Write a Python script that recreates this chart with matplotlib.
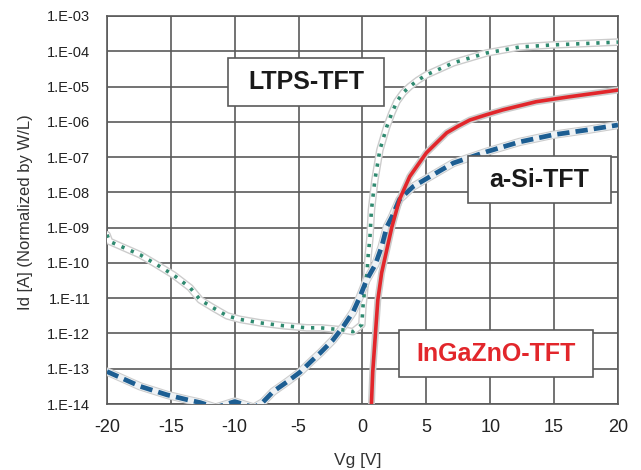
import numpy as np
import matplotlib
matplotlib.use("Agg")
import matplotlib.pyplot as plt
from matplotlib.patches import Rectangle
from matplotlib.ticker import FuncFormatter, FixedLocator

plt.rcParams['font.family'] = ['Liberation Sans', 'DejaVu Sans']
plt.rcParams['axes.unicode_minus'] = False

# ---------------- data ----------------
# log10(Id) values
ltps_vg = [-20, -19.8, -17.4, -16.1, -14.8, -13.5, -12.7, -11.7, -10.6, -9.6, -8.0,
           -6.2, -4.35, -3.3, -1.5, -0.75, -0.05, 0.03, 0.19, 0.34, 0.45, 0.58,
           0.7, 0.97, 1.36, 1.9, 2.3, 2.7, 3.2, 3.7, 4.3, 5.0, 7.1, 9.7, 12.3,
           14.9, 17.5, 20]
ltps_log_id = [-9.2, -9.39, -9.77, -10.05, -10.34, -10.7, -11.05, -11.27, -11.5, -11.6,
               -11.7, -11.78, -11.84, -11.84, -11.9, -11.95, -11.75, -11.27, -10.68,
               -10.34, -9.77, -9.3, -8.5, -7.65, -6.8, -6.14, -5.75, -5.42, -5.17,
               -5.0, -4.83, -4.67, -4.33, -4.05, -3.88, -3.82, -3.78, -3.74]

asi_vg = [-20, -17.4, -15.3, -13.7, -12.7, -11.5, -10.0, -8.5, -7.8, -7.0, -5.9, -4.9,
          -3.9, -3.3, -2.3, -1.5, -0.75, -0.2, 0.3, 1.0, 1.5, 1.9, 2.3, 2.9, 3.95,
          5.3, 7.1, 9.7, 12.3, 14.9, 17.6, 20]
asi_log_id = [-13.08, -13.5, -13.74, -13.88, -13.96, -14.1, -13.93, -14.1, -13.95,
              -13.65, -13.37, -13.1, -12.75, -12.55, -12.18, -11.8, -11.4, -10.96,
              -10.5, -10.05, -9.54, -8.98, -8.7, -8.2, -7.84, -7.55, -7.17, -6.85,
              -6.57, -6.37, -6.23, -6.09]

igzo_vg = [0.65, 0.7, 0.8, 0.98, 1.2, 1.5, 1.9, 2.3, 2.9, 3.7, 5.0, 6.6, 7.5, 8.4,
           9.7, 11.0, 13.6, 16.2, 20]
igzo_log_id = [-14.3, -14.0, -13.1, -12.18, -11.05, -10.28, -9.63, -8.98, -8.2,
               -7.55, -6.88, -6.31, -6.12, -5.95, -5.8, -5.66, -5.43, -5.29, -5.1]

x_ticks = [-20, -15, -10, -5, 0, 5, 10, 15, 20]
y_exps = list(range(-14, -2))

labels = ["LTPS-TFT", "a-Si-TFT", "InGaZnO-TFT"]

# ---------------- plot ----------------
fig = plt.figure(figsize=(6.41, 4.70), dpi=100)
ax = fig.add_axes([0.1669, 0.1404, 0.7972, 0.8256])

grid_c = '#5a5a5a'
halo_c = '#cccccc'

ltps_id = np.power(10.0, ltps_log_id)
asi_id = np.power(10.0, asi_log_id)
igzo_id = np.power(10.0, igzo_log_id)

# LTPS: greyish raw-data outline + green dotted
ax.plot(ltps_vg, ltps_id, color=halo_c, lw=5.5, solid_capstyle='round', zorder=3)
ax.plot(ltps_vg, ltps_id, color='white', lw=3.5, solid_capstyle='round', zorder=3)
ax.plot(ltps_vg, ltps_id, color='#2f8a70', lw=2.6, ls=(0, (0.9, 1.9)), zorder=4)

# a-Si: blue dashed
ax.plot(asi_vg, asi_id, color=halo_c, lw=6, solid_capstyle='round', zorder=3)
ax.plot(asi_vg, asi_id, color='#eef2f5', lw=4.5, solid_capstyle='round', zorder=3)
ax.plot(asi_vg, asi_id, color='#1d5e92', lw=3.4, ls=(0, (2.6, 1.3)), zorder=4)

# InGaZnO: red solid
ax.plot(igzo_vg, igzo_id, color=halo_c, lw=5, solid_capstyle='round', zorder=3)
ax.plot(igzo_vg, igzo_id, color='#e2262b', lw=2.6, zorder=4)

ax.set_yscale('log')
ax.set_xlim(-20, 20)
ax.set_ylim(1e-14, 1e-3)
ax.xaxis.set_major_locator(FixedLocator(x_ticks))
ax.yaxis.set_major_locator(FixedLocator([10.0 ** e for e in y_exps]))
ax.yaxis.set_minor_locator(FixedLocator([]))
ax.yaxis.set_major_formatter(
    FuncFormatter(lambda v, p: "1.E-%02d" % (-int(round(np.log10(v))))))
ax.grid(True, color=grid_c, lw=1.2, zorder=1)
ax.set_axisbelow(True)
for s in ax.spines.values():
    s.set_color(grid_c)
    s.set_linewidth(1.2)

ax.tick_params(axis='both', length=0, colors='#222222')
ax.tick_params(axis='x', labelsize=13, pad=11)
ax.tick_params(axis='y', labelsize=10.5, pad=12)

ax.set_xlabel("Vg [V]", fontsize=12.5, color='#333333')
ax.set_ylabel("Id [A] (Normalized by W/L)", fontsize=12, color='#333333')
ax.xaxis.set_label_coords(0.491, -0.125)
ax.xaxis.label.set_va('top')
ax.yaxis.set_label_coords(-0.145, 0.495)

# label boxes (axes fractions)
boxes = [(0.2368, 0.768, 0.3053, 0.1238),
         (0.7065, 0.518, 0.2798, 0.121),
         (0.5714, 0.0696, 0.3797, 0.1211)]
colors = ['#1a1a1a', '#1a1a1a', '#e2262b']
for (bx, by, bw, bh), lab, col in zip(boxes, labels, colors):
    ax.add_patch(Rectangle((bx, by), bw, bh, transform=ax.transAxes,
                           facecolor='white', edgecolor=grid_c, lw=1.2, zorder=6))
    ax.text(bx + bw / 2, by + bh / 2, lab, transform=ax.transAxes, ha='center',
            va='center', fontsize=18, fontweight='bold', color=col, zorder=7)

fig.savefig("out.png", dpi=100)
